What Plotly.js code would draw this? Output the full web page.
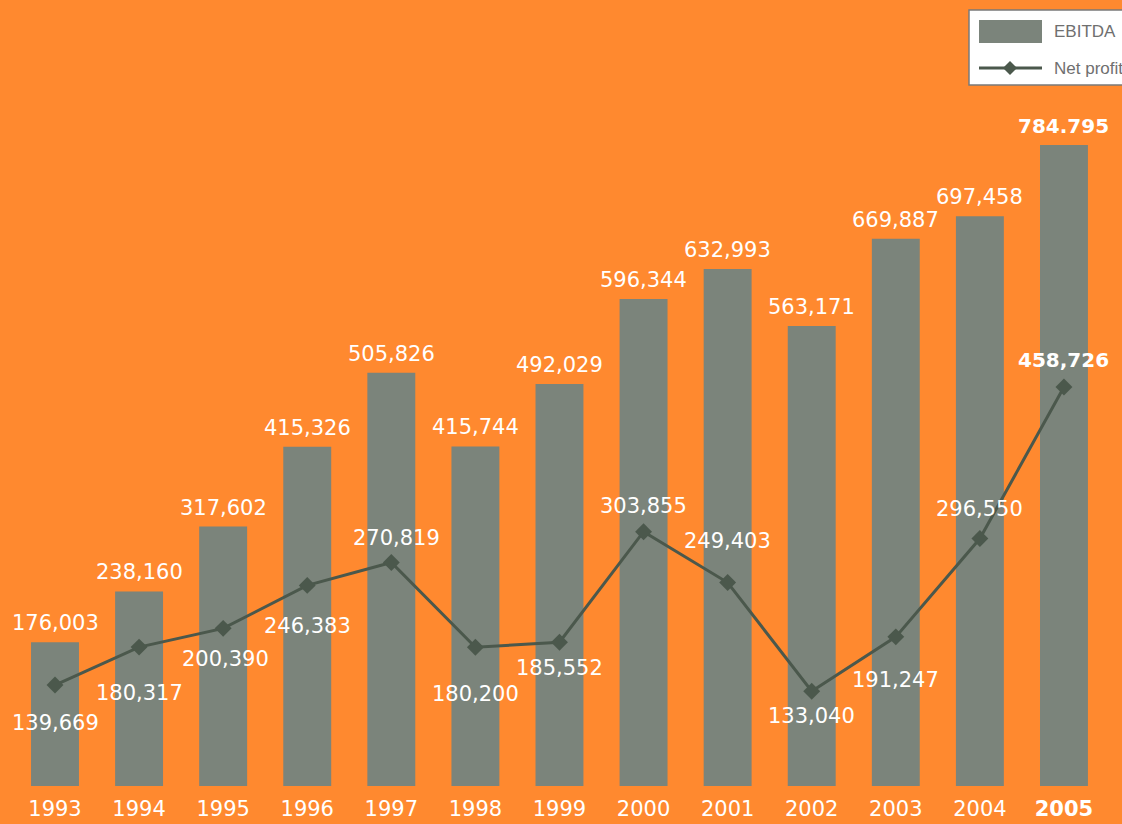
<!DOCTYPE html>
<html>
<head>
<meta charset="utf-8">
<script src="https://cdn.plot.ly/plotly-3.0.1.min.js"></script>
<style>html,body{margin:0;padding:0;background:#FF892F;overflow:hidden}#chart{width:1122px;height:824px}</style>
</head>
<body>
<div id="chart"></div>
<script>
// ---- data ----
const years = [1993, 1994, 1995, 1996, 1997, 1998, 1999, 2000, 2001, 2002, 2003, 2004, 2005];
const yearLabels = ['1993','1994','1995','1996','1997','1998','1999','2000','2001','2002','2003','2004','<b>2005</b>'];
const ebitda = [176003, 238160, 317602, 415326, 505826, 415744, 492029, 596344, 632993, 563171, 669887, 697458, 784795];
const netProfit = [139669, 180317, 200390, 246383, 270819, 180200, 185552, 303855, 249403, 133040, 191247, 296550, 458726];
const seriesNames = ['EBITDA', 'Net profit'];

// ---- label placement (pixels, positive = up) ----
const netLabelShift = [-38, -46, -31, -41, 25, -47, -26, 26, 42, -25, -43, 30, 27];
const netLabelXShift = [0, 0, 2, 0, 5, 0, 0, 0, 0, 0, 0, 0, 0];

const W = 1122, H = 824, MB = 38, PH = H - MB;
const ORANGE = '#FF892F', BAR = '#7B847B', LINE = '#4B584C';
const FONT = '"DejaVu Sans ExtraLight", "DejaVu Sans", sans-serif';
const FONT_BOLD = '"DejaVu Sans", sans-serif';

function fmt(v){ return v.toLocaleString('en-US'); }
const last = years.length - 1;
const ebitdaText = ebitda.map((v,i) => i === last ? fmt(v).replace(',', '.') : fmt(v));
const netText = netProfit.map(v => fmt(v));

const traces = [
  {type:'bar', x: years, y: ebitda, name: seriesNames[0], width: 0.57,
   marker:{color: BAR}, hoverinfo:'x+y', showlegend:false},
  {type:'scatter', mode:'lines+markers', x: years, y: netProfit, name: seriesNames[1], yaxis:'y2',
   line:{color: LINE, width:3}, marker:{symbol:'diamond', size:13, color: LINE}, showlegend:false}
];

const annotations = [];
years.forEach((yr,i) => {
  const isLast = i === last;
  const f = {family: isLast ? FONT_BOLD : FONT, size: isLast ? 20 : 21, color:'#ffffff'};
  annotations.push({x: yr, y: ebitda[i], xref:'x', yref:'y', text: isLast ? '<b>' + ebitdaText[i] + '</b>' : ebitdaText[i],
    showarrow:false, yanchor:'middle', yshift: 19, font: f});
  annotations.push({x: yr, y: netProfit[i], xref:'x', yref:'y2', text: isLast ? '<b>' + netText[i] + '</b>' : netText[i],
    showarrow:false, yanchor:'middle', yshift: netLabelShift[i], xshift: netLabelXShift[i], font: f});
});

// custom legend (paper coords from pixel positions)
const px = x => x / W;
const py = y => (PH - y) / PH;
const shapes = [
  {type:'rect', xref:'paper', yref:'paper', x0: px(969), x1: px(1135), y0: py(85), y1: py(10),
   fillcolor:'#ffffff', line:{color:'#7a7a7a', width:1.5}, layer:'above'},
  {type:'rect', xref:'paper', yref:'paper', x0: px(979), x1: px(1042), y0: py(43), y1: py(20),
   fillcolor: BAR, line:{width:0}, layer:'above'},
  {type:'line', xref:'paper', yref:'paper', x0: px(979), x1: px(1042), y0: py(68), y1: py(68),
   line:{color: LINE, width:3}, layer:'above'},
  {type:'path', xref:'paper', yref:'paper',
   path: `M ${px(1010)} ${py(61)} L ${px(1017)} ${py(68)} L ${px(1010)} ${py(75)} L ${px(1003)} ${py(68)} Z`,
   fillcolor: LINE, line:{color: LINE, width:0}, layer:'above'}
];
const LEGFONT = {family:'"Liberation Sans Narrow", "Liberation Sans", sans-serif', size:17, color:'#6f6f6f'};
annotations.push({xref:'paper', yref:'paper', x: px(1052), y: py(31), xanchor:'left', yanchor:'middle',
  text: seriesNames[0], showarrow:false, font: LEGFONT});
annotations.push({xref:'paper', yref:'paper', x: px(1052), y: py(68), xanchor:'left', yanchor:'middle',
  text: seriesNames[1], showarrow:false, font: LEGFONT});

const yScale = 641 / 784795;           // px per unit, primary
const y2Scale = 298 / 319057;          // px per unit, secondary
const y2Min = 29.5 / y2Scale;          // zero of secondary axis sits below the plot

const layout = {
  width: W, height: H,
  margin:{l:0, r:0, t:0, b:MB, pad:0},
  paper_bgcolor: ORANGE, plot_bgcolor: ORANGE,
  showlegend:false,
  xaxis:{range:[1993 - 55/84.08, 1993 + (W - 55)/84.08], tickvals: years, ticktext: yearLabels,
    showgrid:false, zeroline:false, showline:false, ticks:'', ticklabelstandoff: 8,
    tickfont:{family: FONT, size:21, color:'#ffffff'}, fixedrange:true},
  yaxis:{range:[0, PH / yScale], visible:false, showgrid:false, zeroline:false, fixedrange:true},
  yaxis2:{range:[y2Min, y2Min + PH / y2Scale], overlaying:'y', side:'right', visible:false,
    showgrid:false, zeroline:false, fixedrange:true},
  annotations: annotations,
  shapes: shapes,
  font:{family: FONT, color:'#ffffff'}
};

Plotly.newPlot('chart', traces, layout, {displayModeBar:false, staticPlot:true});
</script>
</body>
</html>
